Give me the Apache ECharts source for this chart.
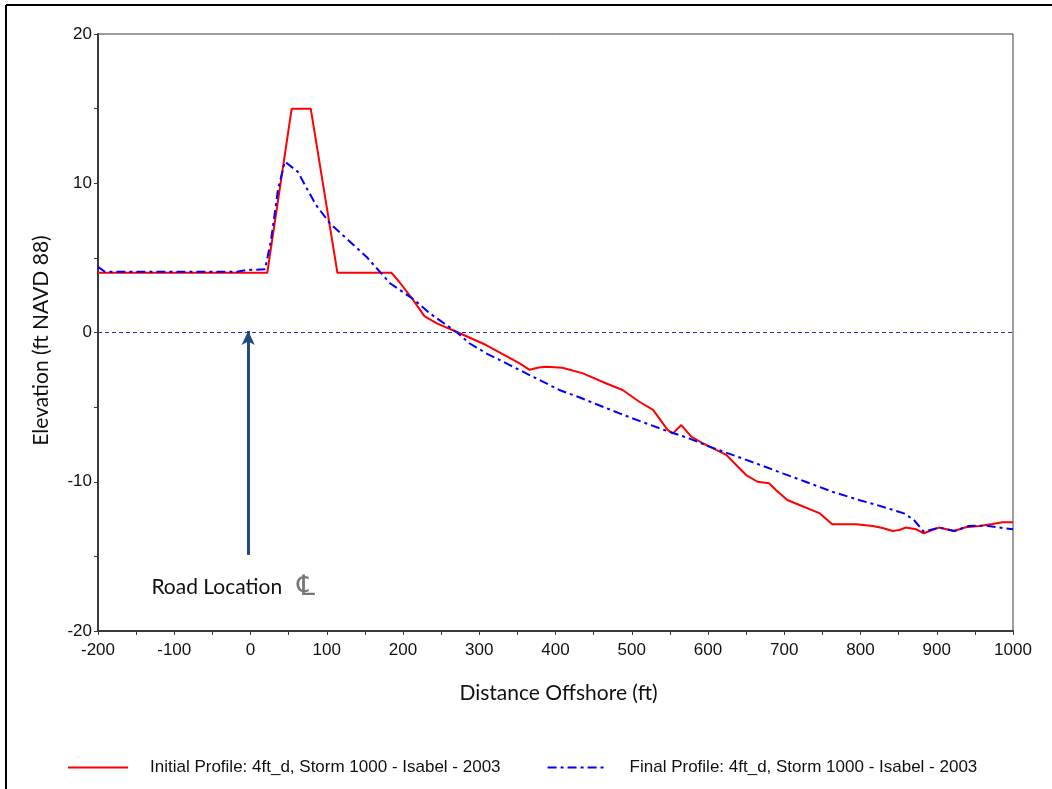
<!DOCTYPE html>
<html>
<head>
<meta charset="utf-8">
<script src="https://cdn.jsdelivr.net/npm/echarts@6/dist/echarts.min.js"></script>
<style>
html,body{margin:0;padding:0;background:#fff;}
#chart{width:1052px;height:789px;}
</style>
</head>
<body>
<div id="chart"></div>
<script>
// ---- data ----
const initialX = [-200, 22, 54, 79, 114, 176, 185, 195, 213, 228, 245, 270, 309, 353, 366, 378, 388, 409, 436, 466, 488, 510, 528, 547, 554, 565, 578, 593, 602, 624, 637, 650, 665, 680, 689, 704, 720, 746, 763, 794, 816, 829, 842, 851, 859, 873, 883, 894, 903, 923, 938, 956, 973, 986, 1000];
const initialY = [4, 4, 15, 15, 4, 4, 4, 3.4, 2.2, 1.1, 0.6, 0.05, -0.84, -2.07, -2.5, -2.35, -2.29, -2.36, -2.74, -3.4, -3.85, -4.64, -5.19, -6.53, -6.76, -6.2, -6.98, -7.42, -7.65, -8.2, -8.88, -9.55, -10.0, -10.1, -10.55, -11.22, -11.56, -12.1, -12.85, -12.85, -12.96, -13.1, -13.3, -13.23, -13.07, -13.19, -13.45, -13.23, -13.07, -13.3, -13.05, -12.96, -12.83, -12.72, -12.72];
const finalX = [-200, -191, -18, -5, 19, 27, 36, 45, 62, 75, 86, 104, 152, 183, 215, 235, 257, 272, 287, 309, 340, 366, 405, 431, 453, 484, 514, 549, 575, 602, 632, 663, 698, 728, 763, 798, 829, 857, 870, 883, 903, 923, 942, 964, 982, 1000];
const finalY = [4.4, 4.07, 4.07, 4.19, 4.23, 6.2, 9.55, 11.45, 10.77, 9.55, 8.54, 7.32, 5.08, 3.3, 2.18, 1.29, 0.5, -0.05, -0.72, -1.39, -2.18, -2.85, -3.85, -4.34, -4.79, -5.42, -6.0, -6.65, -7.09, -7.65, -8.2, -8.77, -9.44, -10.0, -10.67, -11.22, -11.67, -12.12, -12.56, -13.35, -13.07, -13.3, -12.96, -12.94, -13.07, -13.19];
const arrowX = [-3, -3];
const arrowY = [-14.9, 0.1];
const seriesNames = ['Initial Profile: 4ft_d, Storm 1000 - Isabel - 2003', 'Final Profile: 4ft_d, Storm 1000 - Isabel - 2003'];
const roadLabel = 'Road Location';
const roadLabelPos = [-130, -17];
const clSymbol = '\u2104';
const clPos = [61, -17];
const xTitle = 'Distance Offshore (ft)';
const yTitle = 'Elevation (ft NAVD 88)';

const zip = (xs, ys) => xs.map((x, i) => [x, ys[i]]);

const chart = echarts.init(document.getElementById('chart'), null, {renderer: 'canvas'});
const axisCol = '#3a3a3a';
const labelFont = {fontFamily: 'Liberation Sans, Arial, sans-serif', fontSize: 17, color: '#111'};
const titleFont = {fontFamily: 'Lato, Open Sans, sans-serif', fontSize: 21, color: '#111'};

chart.setOption({
  animation: false,
  backgroundColor: '#fff',
  grid: {left: 98, right: 39, top: 34, bottom: 158, show: true, borderColor: axisCol, borderWidth: 1, backgroundColor: 'transparent'},
  xAxis: {
    type: 'value', min: -200, max: 1000, interval: 100,
    name: xTitle, nameLocation: 'middle', nameGap: 52, nameTextStyle: Object.assign({padding: [0, 0, 0, 6]}, titleFont),
    axisLine: {show: true, onZero: false, lineStyle: {color: axisCol, width: 2}},
    axisTick: {show: true, length: 4, lineStyle: {color: axisCol}},
    minorTick: {show: true, splitNumber: 2, length: 4, lineStyle: {color: axisCol}},
    splitLine: {show: false},
    axisLabel: Object.assign({margin: 11, formatter: v => String(v)}, labelFont)
  },
  yAxis: {
    type: 'value', min: -20, max: 20, interval: 10,
    name: yTitle, nameLocation: 'middle', nameGap: 46, nameTextStyle: Object.assign({padding: [0, 16, 0, 0]}, titleFont),
    axisLine: {show: true, onZero: false, lineStyle: {color: axisCol, width: 2}},
    axisTick: {show: true, length: 4, lineStyle: {color: axisCol}},
    minorTick: {show: true, splitNumber: 2, length: 4, lineStyle: {color: axisCol}},
    splitLine: {show: false},
    axisLabel: Object.assign({margin: 6, formatter: v => String(v)}, labelFont)
  },
  legend: {
    data: seriesNames,
    left: 62, top: 754,
    itemWidth: 60, itemHeight: 12, itemGap: 46,
    itemStyle: {opacity: 0},
    textStyle: {fontFamily: 'Liberation Sans Narrow, Arial Narrow, Liberation Sans, sans-serif', fontSize: 17, color: '#111', padding: [0, 0, 0, 17]}
  },
  series: [
    {
      name: seriesNames[0], type: 'line', data: zip(initialX, initialY),
      symbol: 'none', lineStyle: {color: '#ff0000', width: 2}, itemStyle: {color: '#ff0000'}, z: 3,
      markLine: {
        silent: true, symbol: ['none', 'none'], label: {show: false},
        lineStyle: {color: '#2b2bc0', width: 1, type: [4, 3]},
        data: [{yAxis: 0}]
      }
    },
    {
      name: seriesNames[1], type: 'line', data: zip(finalX, finalY),
      symbol: 'none', lineStyle: {color: '#0000ff', width: 2, type: [9, 4, 3, 4]}, itemStyle: {color: '#0000ff'}, z: 4
    },
    {
      name: 'arrow', type: 'line', data: [], symbol: 'none',
      markLine: {
        silent: true, symbol: ['none', 'arrow'], symbolSize: [10, 14], label: {show: false},
        lineStyle: {color: '#24497f', width: 3, type: 'solid'},
        data: [[{coord: [arrowX[0], arrowY[0]]}, {coord: [arrowX[1], arrowY[1]]}]]
      }
    }
  ]
});

const p1 = chart.convertToPixel({gridIndex: 0}, roadLabelPos);
const p2 = chart.convertToPixel({gridIndex: 0}, clPos);
chart.setOption({
  graphic: [
    {type: 'text', left: p1[0], top: p1[1] - 9, style: {text: roadLabel, font: '21px Lato, "Open Sans", sans-serif', fill: '#111'}},
    {type: 'text', left: p2[0], top: p2[1] - 13, style: {text: clSymbol, font: '28px "DejaVu Sans", sans-serif', fill: '#777'}},
    {type: 'line', shape: {x1: 6, y1: 5, x2: 1052, y2: 5}, style: {stroke: '#000', lineWidth: 2}},
    {type: 'line', shape: {x1: 6, y1: 5, x2: 6, y2: 789}, style: {stroke: '#000', lineWidth: 2}}
  ]
});
</script>
</body>
</html>
